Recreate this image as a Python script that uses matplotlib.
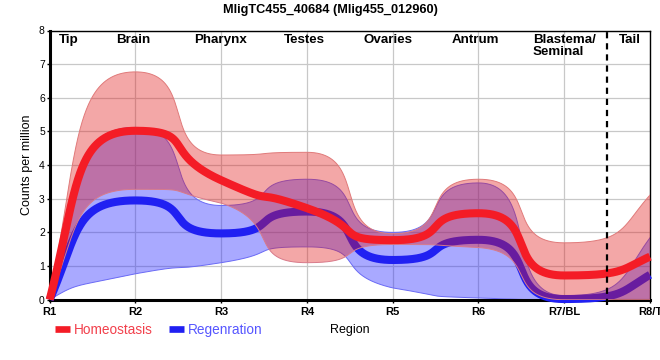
import numpy as np
import matplotlib
matplotlib.use("Agg")
import matplotlib.pyplot as plt
from matplotlib.lines import Line2D

plt.rcParams['font.family'] = ['Liberation Sans', 'DejaVu Sans']

# ---------------- data ----------------
title = "MligTC455_40684 (Mlig455_012960)"
regions = ["R1", "R2", "R3", "R4", "R5", "R6", "R7/BL", "R8/T"]
region_names = ["Tip", "Brain", "Pharynx", "Testes", "Ovaries", "Antrum",
                "Blastema/\nSeminal", "Tail"]
region_name_pos = [0.22, 0.97, 1.99, 2.97, 3.94, 4.97, 6.0, 6.77]
divider_pos = 6.5

homeo_mean = [0.0, 5.02, 3.55, 2.72, 1.77, 2.57, 0.72, 1.28]
homeo_upper = [0.0, 6.77, 4.30, 4.38, 1.96, 3.58, 1.69, 3.11]
homeo_lower = [0.0, 3.28, 2.87, 1.10, 1.64, 1.55, 0.00, 0.00]

regen_mean = [0.0, 2.95, 1.97, 2.62, 1.18, 1.78, 0.02, 0.74]
regen_upper = [0.0, 5.12, 2.80, 3.58, 2.00, 3.47, 0.12, 1.84]
regen_lower = [0.0, 0.77, 1.10, 1.57, 0.35, 0.05, 0.00, 0.00]

series_labels = ["Homeostasis", "Regenration"]


# ------------- smoothing (monotone bezier) -------------
def tangents(y, end_factor=2.0):
    y = np.asarray(y, float)
    n = len(y)
    s = np.diff(y)
    m = np.zeros(n)
    for k in range(1, n - 1):
        s0, s1 = s[k - 1], s[k]
        if s0 * s1 > 0:
            p = 0.5 * (s0 + s1)
            m[k] = np.sign(s0) * min(2 * abs(s0), 2 * abs(s1), abs(p))
    m[0] = end_factor * s[0]
    m[-1] = end_factor * s[-1]
    return m


def smooth(y, grid, c_in=0.72, c_end=1 / 3, npts=300):
    y = np.asarray(y, float)
    n = len(y)
    m = tangents(y)
    t = np.linspace(0, 1, npts)
    xs, ys = [], []
    for i in range(n - 1):
        ca = c_end if i == 0 else c_in
        cb = c_end if i == n - 2 else c_in
        lo, hi = min(y[i], y[i + 1]), max(y[i], y[i + 1])
        y1 = np.clip(y[i] + ca * m[i], lo, hi)
        y2 = np.clip(y[i + 1] - cb * m[i + 1], lo, hi)
        x0, x1, x2, x3 = i, i + ca, i + 1 - cb, i + 1
        b0 = (1 - t) ** 3
        b1 = 3 * (1 - t) ** 2 * t
        b2 = 3 * (1 - t) * t ** 2
        b3 = t ** 3
        bx = b0 * x0 + b1 * x1 + b2 * x2 + b3 * x3
        by = b0 * y[i] + b1 * y1 + b2 * y2 + b3 * y[i + 1]
        if i > 0:
            bx, by = bx[1:], by[1:]
        xs.append(bx)
        ys.append(by)
    xs = np.concatenate(xs)
    ys = np.concatenate(ys)
    return np.interp(grid, xs, ys)


x = np.arange(len(regions))
grid = np.linspace(x[0], x[-1], 2001)

# ---------------- figure ----------------
fig = plt.figure(figsize=(6.6, 3.6), dpi=100)
W, H = 660, 360
ax_l, ax_r, ax_t, ax_b = 49.7, 650, 30.5, 299.7
ax = fig.add_axes([ax_l / W, 1 - ax_b / H, (ax_r - ax_l) / W, (ax_b - ax_t) / H])

red_band = '#e01818'
blue_band = '#2828ff'
red_line = '#f41c26'
blue_line = '#2020f2'

# regeneration band + line
ax.fill_between(grid, smooth(regen_lower, grid), smooth(regen_upper, grid),
                facecolor=blue_band, alpha=0.4, edgecolor='none', zorder=2)
ax.plot(grid, smooth(regen_upper, grid), color='#6a6af5', lw=0.7, zorder=2.1)
ax.plot(grid, smooth(regen_lower, grid), color='#6a6af5', lw=0.7, zorder=2.1)
ax.plot(grid, smooth(regen_mean, grid), color=blue_line, lw=5.8,
        solid_capstyle='butt', zorder=3, clip_on=False)

# homeostasis band + line
ax.fill_between(grid, smooth(homeo_lower, grid), smooth(homeo_upper, grid),
                facecolor=red_band, alpha=0.38, edgecolor='none', zorder=4)
ax.plot(grid, smooth(homeo_upper, grid), color='#e07a7a', lw=0.7, zorder=4.1)
ax.plot(grid, smooth(homeo_lower, grid), color='#d87a8a', lw=0.7, zorder=4.1)
ax.plot(grid, smooth(homeo_mean, grid), color=red_line, lw=5.8,
        solid_capstyle='butt', zorder=5, clip_on=False)

# divider
ax.vlines(divider_pos, -0.17, 8, colors='black', lw=1.6,
          linestyles=(0, (2.8, 2.2)), zorder=6, clip_on=False)

# region names
for name, px in zip(region_names, region_name_pos):
    ax.text(px, 7.9, name, ha='center', va='top', multialignment='left',
            fontsize=9.6, fontweight='bold', linespacing=1.05, zorder=7)

# axes styling
ax.set_xlim(x[0], x[-1])
ax.set_ylim(0, 8)
ax.set_xticks(x)
ax.set_xticklabels(regions, fontsize=8, fontweight='bold')
ax.set_yticks(range(0, 9))
ax.set_yticklabels([str(v) for v in range(0, 9)], fontsize=7.5)
ax.tick_params(axis='x', length=2.5, width=1, pad=2.5)
ax.tick_params(axis='y', length=2, width=1, pad=1.5)
ax.grid(True, color='#c8c8c8', lw=0.9, zorder=0)
ax.set_axisbelow(True)
for side in ['left', 'bottom']:
    ax.spines[side].set_linewidth(2.2)
for side in ['top', 'right']:
    ax.spines[side].set_linewidth(1.0)

ax.set_xlabel("Region", fontsize=9)
ax.xaxis.set_label_coords(0.5, -0.092)
ax.set_ylabel("Counts per million", fontsize=9)
ax.yaxis.set_label_coords(-0.028, 0.5)

fig.text(0.5, 1 - 13.3 / H, title, ha='center', va='baseline',
         fontsize=9.2, fontweight='bold')

handles = [Line2D([], [], color=red_line, lw=4.8, solid_capstyle='butt'),
           Line2D([], [], color=blue_line, lw=4.8, solid_capstyle='butt')]
leg = fig.legend(handles, series_labels, loc='center left',
                 bbox_to_anchor=(55 / W, 1 - 330 / H), frameon=False, ncol=2,
                 fontsize=9.8, handlelength=1.1, handletextpad=0.3,
                 columnspacing=1.2, borderpad=0, borderaxespad=0)
for txt, col in zip(leg.get_texts(), ['#f2404c', '#5656ff']):
    txt.set_color(col)

fig.savefig("out.png", dpi=100)
